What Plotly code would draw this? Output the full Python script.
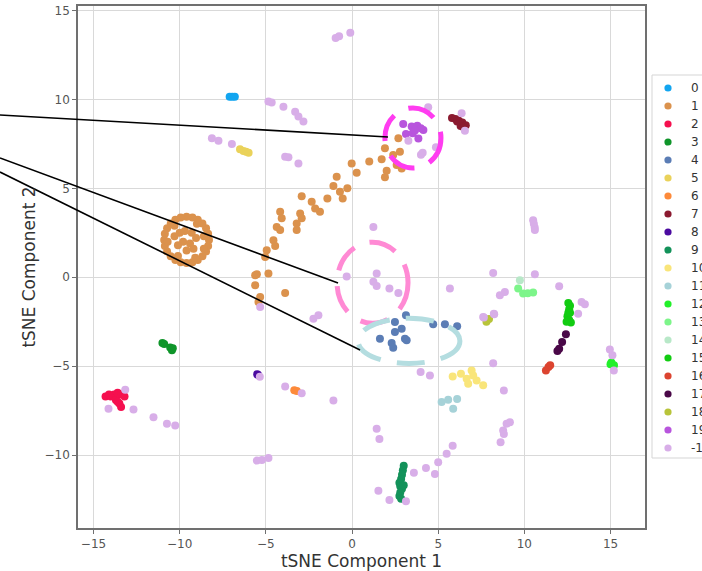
import plotly.graph_objects as go

labels = ["0", "1", "2", "3", "4", "5", "6", "7", "8", "9", "10", "11", "12",
          "13", "14", "15", "16", "17", "18", "19", "-1"]
colors = ["#12a5f0", "#db924d", "#f5104f", "#0f952a", "#5b7db5", "#ead25a",
          "#fd8a3a", "#8b1a30", "#4b0aa0", "#13925a", "#f9e57a", "#a6d2d8",
          "#22f02a", "#7df58a", "#b8e8c8", "#12cc12", "#dc4430", "#4a0848",
          "#b8c43a", "#b855dd", "#d8aee8"]

x0 = [-7.1, -6.95, -6.8]
y0 = [10.15, 10.15, 10.15]

x1 = [-8.3, -8.35, -8.47, -8.68, -8.95, -9.26, -9.6, -9.94, -10.25, -10.52, -10.73, -10.86,
      -10.9, -10.86, -10.73, -10.52, -10.25, -9.94, -9.6, -9.26, -8.95, -8.68, -8.47, -8.35,
      -8.6, -9.0, -10.3, -10.7, -10.1, -9.1, -8.6,
      -10.0, -9.7, -9.3, -9.8, -9.4, -10.1, -9.6, -9.2, -9.05, -10.3,
      2.69, 1.91, 2.78, 2.39, 1.72, 2.59, 2.88, 2.01, 1.91, 1.0, -0.02, 0.27, -0.89, -1.08,
      -0.70, -0.27, -0.54, -1.43, -1.86, -2.34, -2.14, -2.92, -3.01, -2.92, -3.21, -3.21,
      -4.17, -4.08, -4.37, -4.17, -4.56, -4.46, -4.95, -5.04, -4.85, -5.52, -5.62, -3.88,
      -5.33, -5.43, -5.62]
y1 = [2.1, 2.45, 2.75, 3.02, 3.23, 3.36, 3.4, 3.36, 3.23, 3.02, 2.75, 2.44,
      2.1, 1.76, 1.45, 1.18, 0.97, 0.84, 0.8, 0.84, 0.97, 1.18, 1.45, 1.76,
      2.3, 3.0, 2.9, 2.0, 1.2, 1.1, 1.6,
      2.5, 2.6, 2.5, 2.0, 1.9, 1.8, 1.5, 1.6, 2.2, 2.3,
      7.81, 7.25, 7.06, 6.87, 6.63, 6.31, 6.12, 5.99, 5.62, 6.50, 6.40, 5.88, 5.65, 5.13,
      4.81, 5.0, 4.43, 4.43, 3.68, 4.24, 3.87, 4.56, 3.59, 3.31, 3.02, 2.65,
      3.68, 3.31, 2.83, 2.65, 2.08, 1.75, 1.52, 1.14, 0.21, 0.17, -0.45, -0.88,
      -1.11, -1.39, 0.11]

x2 = [-14.3, -14.0, -13.8, -13.6, -13.4, -13.2, -13.7, -13.5, -13.4, -13.6, -14.1]
y2 = [-6.7, -6.7, -6.6, -6.5, -6.6, -6.7, -6.9, -7.1, -7.3, -7.0, -6.6]

x3 = [-11.0, -10.9, -10.55, -10.45, -10.4]
y3 = [-3.7, -3.75, -3.95, -4.1, -4.0]

x4 = [3.13, 2.49, 2.88, 2.49, 1.62, 2.30, 2.39, 3.07, 3.17, 4.71, 5.39, 6.10]
y4 = [-2.14, -2.52, -2.89, -3.08, -3.46, -3.70, -3.96, -3.46, -3.55, -2.65, -2.65, -2.76]

x5 = [-6.5, -6.3, -6.15, -6.0]
y5 = [7.2, 7.1, 7.05, 7.0]

x6 = [-3.35, -3.2]
y6 = [-6.35, -6.4]

x7 = [5.8, 6.0, 6.2, 6.4, 6.6, 6.3, 6.1, 6.5]
y7 = [8.95, 8.9, 8.8, 8.7, 8.55, 8.5, 8.75, 8.4]

x8 = [-5.5, -5.45]
y8 = [-5.45, -5.5]

x9 = [3.0, 2.95, 2.9, 2.85, 2.75, 2.8, 2.9, 2.8, 2.75, 2.85, 3.0]
y9 = [-10.6, -10.85, -11.1, -11.35, -11.55, -11.75, -11.9, -12.1, -12.3, -12.45, -11.7]

x10 = [5.84, 6.32, 6.65, 6.94, 7.03, 7.23, 7.61, 6.74]
y10 = [-5.58, -5.43, -5.71, -5.24, -5.52, -5.80, -6.08, -5.99]

x11 = [5.20, 5.58, 6.10, 5.87]
y11 = [-7.02, -6.89, -6.84, -7.40]

x12 = [15.05, 15.2, 15.0]
y12 = [-4.8, -4.95, -4.9]

x13 = [9.64, 9.93, 10.51, 10.2]
y13 = [-0.64, -0.92, -0.86, -0.9]

x14 = [9.74]
y14 = [-0.17]

x15 = [12.55, 12.65, 12.6, 12.55, 12.5, 12.6, 12.7, 12.45, 12.65]
y15 = [-1.45, -1.6, -1.8, -2.0, -2.2, -2.4, -2.55, -2.5, -2.0]

x16 = [11.25, 11.4, 11.5]
y16 = [-5.25, -5.05, -4.95]

x17 = [12.41, 12.19, 12.02, 11.92]
y17 = [-3.21, -3.64, -4.02, -4.15]

x18 = [7.8, 7.95]
y18 = [-2.5, -2.35]

x19 = [2.97, 3.46, 3.79, 4.14, 3.13, 3.52, 3.85, 3.99, 3.65]
y19 = [8.62, 8.47, 8.51, 8.28, 8.06, 8.09, 7.80, 8.38, 8.25]

xn = [-0.95, -0.75, -0.1, -4.85, -4.66, -3.98, -3.30, -3.11, -2.82, -8.13, -7.75, -6.97,
      -3.88, -3.69, -3.11, 4.42, 3.27, 4.0, 4.1, 4.87, 6.36, 6.55,
      1.24, 10.51, 10.55, 10.6, 10.61, 8.19, 10.61, 1.43, -0.31, 1.24, 1.43, 2.17, 2.69,
      5.68, 8.58, 8.87, 12.02, 7.61, 8.23, 13.32, 13.51, 13.12, 14.96, 15.11, 15.19,
      8.19, 3.98, 4.52, 8.81, -1.08, 8.97, 9.16, 8.77, 8.81, 8.62, 1.43, 1.59,
      5.84, 5.49, 5.0, 4.29, 4.81, 3.59, 1.53, 2.17, 3.13,
      -5.33, -2.24, -1.95, -5.35, -3.88, -2.92, -13.16, -14.13, -12.68, -11.52,
      -10.74, -10.26, -5.52, -5.23, -4.85, 7.65, 8.25]
yn = [13.45, 13.55, 13.75, 9.88, 9.82, 9.59, 9.31, 9.03, 8.75, 7.81, 7.68, 7.49,
      6.78, 6.74, 6.40, 9.56, 7.68, 6.88, 7.0, 7.31, 9.22, 8.24,
      2.83, 3.21, 3.0, 2.8, 2.65, 0.24, 0.17, 0.21, 0.04, -0.26, -0.5, -0.64, -0.88,
      -0.64, -1.01, -0.83, -0.51, -2.24, -2.05, -1.39, -1.52, -2.05, -4.07, -4.39, -5.24,
      -4.83, -5.33, -5.52, -6.37, -6.93, -8.24, -8.15, -8.62, -8.81, -9.28, -8.52, -9.09,
      -9.48, -9.93, -10.41, -10.72, -11.06, -10.99, -12.0, -12.52, -12.6,
      -1.67, -2.33, -2.14, -5.6, -6.14, -6.52, -6.33, -7.40, -7.44, -7.87,
      -8.24, -8.34, -10.31, -10.27, -10.16, -2.27, -2.08]

xs = [x0, x1, x2, x3, x4, x5, x6, x7, x8, x9, x10, x11, x12, x13, x14, x15, x16,
      x17, x18, x19, xn]
ys = [y0, y1, y2, y3, y4, y5, y6, y7, y8, y9, y10, y11, y12, y13, y14, y15, y16,
      y17, y18, y19, yn]

# highlight ellipses (data coords): x0, x1, y0, y1, colour
ellipses = [
    (1.91, 5.16, 6.14, 9.52, "#ff3cf0"),
    (-0.87, 3.25, -2.59, 1.97, "#ff8ad4"),
    (0.35, 6.26, -4.85, -2.31, "#b4dde0"),
]
# pointer lines (paper coords)
pointers = [
    (-0.1376, 0.7912, 0.5467, 0.7490),
    (-0.1376, 0.7088, 0.4586, 0.4693),
    (-0.1376, 0.6820, 0.4974, 0.3410),
]

W, H = 702, 571
ML, MR, MT, MB = 78, 57, 6, 43
PW, PH = W - ML - MR, H - MT - MB


def px_x(p):
    return (p - ML) / PW


def px_y(p):
    return (H - MB - p) / PH


fig = go.Figure()
for lab, col, xv, yv in zip(labels, colors, xs, ys):
    fig.add_trace(go.Scatter(x=xv, y=yv, mode="markers", name=lab, showlegend=False,
                             hoverinfo="skip",
                             marker=dict(color=col, size=8, line=dict(width=0))))

for ex0, ex1, ey0, ey1, col in ellipses:
    fig.add_shape(type="circle", xref="x", yref="y", x0=ex0, x1=ex1, y0=ey0, y1=ey1,
                  line=dict(color=col, width=5, dash="28px,16px"), layer="above")
for px0, py0, px1, py1 in pointers:
    fig.add_shape(type="line", xref="paper", yref="paper", x0=px0, y0=py0, x1=px1, y1=py1,
                  line=dict(color="black", width=1.6), layer="above")

# legend box (matplotlib style), entries drawn as marker dot + label
fig.add_shape(type="rect", xref="paper", yref="paper",
              x0=px_x(652), x1=px_x(730), y0=px_y(458), y1=px_y(75),
              line=dict(color="#d5d5d5", width=1), fillcolor="white", layer="above")
for i, (lab, col) in enumerate(zip(labels, colors)):
    yc = px_y(88 + 18.0 * i)
    fig.add_shape(type="circle", xref="paper", yref="paper",
                  xsizemode="pixel", ysizemode="pixel",
                  xanchor=px_x(668), yanchor=yc, x0=-3.6, x1=3.6, y0=-3.6, y1=3.6,
                  line=dict(width=0), fillcolor=col, layer="above")
    fig.add_annotation(xref="paper", yref="paper", x=px_x(689), y=yc,
                       xanchor="left", yanchor="middle", text=lab, showarrow=False,
                       font=dict(family="DejaVu Sans", size=12, color="#333333"))

axis_common = dict(showgrid=True, gridcolor="#d9d9d9", gridwidth=1, zeroline=False,
                   showline=True, mirror=True, linecolor="#707070", linewidth=1.5,
                   ticks="outside", ticklen=4, tickcolor="#707070",
                   tickfont=dict(family="DejaVu Sans", size=12, color="#555555"))

fig.update_layout(
    width=W, height=H,
    margin=dict(l=ML, r=MR, t=MT, b=MB, autoexpand=False),
    paper_bgcolor="white", plot_bgcolor="white",
    showlegend=False,
    xaxis=dict(range=[-15.9, 17.0], tickvals=[-15, -10, -5, 0, 5, 10, 15],
               title=dict(text="tSNE Component 1", standoff=4,
                          font=dict(family="DejaVu Sans", size=17, color="#333333")),
               **axis_common),
    yaxis=dict(range=[-14.1, 15.25], tickvals=[-10, -5, 0, 5, 10, 15],
               title=dict(text="tSNE Component 2", standoff=5,
                          font=dict(family="DejaVu Sans", size=17, color="#333333")),
               **axis_common),
)

fig.write_html("out.html", config={"displayModeBar": False},
               post_script="document.body.style.margin='0';")
